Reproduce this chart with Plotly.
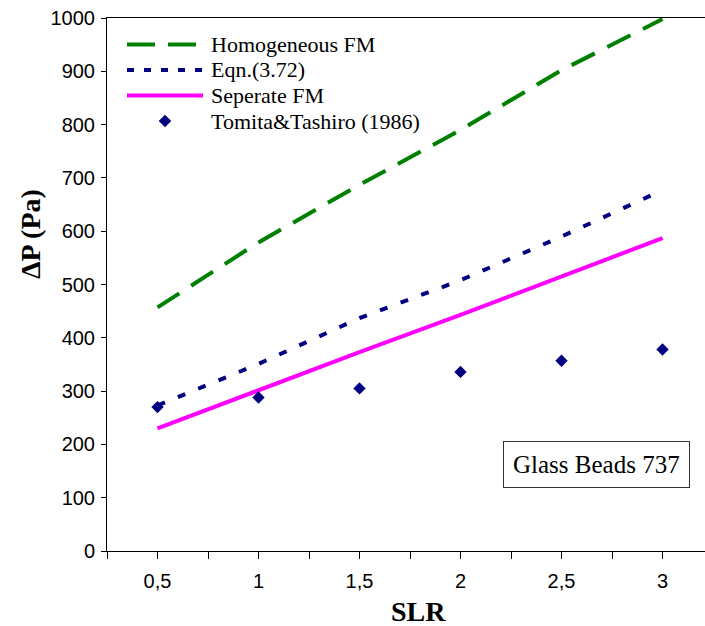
import plotly.graph_objects as go

# ---- data ----
slr = [0.5, 1.0, 1.5, 2.0, 2.5, 3.0]
tick_labels = ["0,5", "1", "1,5", "2", "2,5", "3"]
homogeneous_fm = [457, 579, 687, 790, 902, 998]
eqn_372 = [273, 351, 437, 508, 590, 677]
separate_fm = [230, 302, 373, 443, 515, 587]
tomita_tashiro = [270, 288, 305, 336, 357, 378]
series_names = ["Homogeneous FM", "Eqn.(3.72)", "Seperate FM", "Tomita&Tashiro (1986)"]

# ---- layout helpers (pixel -> paper) ----
W, H = 705, 626
L, R, T, B = 107, 0, 18, 75
pw, ph = W - L - R, H - T - B
def px(x): return (x - L) / pw
def py(y): return (H - B - y) / ph

GREEN, NAVY, MAGENTA = "#008000", "#000080", "#FF00FF"
SERIF, SANS = "Liberation Serif", "Liberation Sans"

fig = go.Figure()
fig.add_trace(go.Scatter(x=slr, y=homogeneous_fm, mode="lines", name=series_names[0],
                         line=dict(color=GREEN, width=4, dash="26px,14px"), showlegend=False))
fig.add_trace(go.Scatter(x=slr, y=eqn_372, mode="lines", name=series_names[1],
                         line=dict(color=NAVY, width=4, dash="8px,14px"), showlegend=False))
fig.add_trace(go.Scatter(x=slr, y=separate_fm, mode="lines", name=series_names[2],
                         line=dict(color=MAGENTA, width=4), showlegend=False))
fig.add_trace(go.Scatter(x=slr, y=tomita_tashiro, mode="markers", name=series_names[3],
                         marker=dict(symbol="diamond", size=9.5, color=NAVY, line=dict(width=0)),
                         showlegend=False))

# ---- manual legend ----
rows = [44.5, 70, 95.5, 121]
lx0, lx1 = 127, 203
shapes = [
    dict(type="line", xref="paper", yref="paper", x0=px(lx0), x1=px(lx1), y0=py(rows[0]), y1=py(rows[0]),
         line=dict(color=GREEN, width=4, dash="28px,13px")),
    dict(type="line", xref="paper", yref="paper", x0=px(lx0), x1=px(lx1), y0=py(rows[1]), y1=py(rows[1]),
         line=dict(color=NAVY, width=4, dash="7px,10px")),
    dict(type="line", xref="paper", yref="paper", x0=px(lx0), x1=px(lx1), y0=py(rows[2]), y1=py(rows[2]),
         line=dict(color=MAGENTA, width=4)),
]
cx, cy, r = 165, rows[3], 6.3
path = "M {} {} L {} {} L {} {} L {} {} Z".format(px(cx - r), py(cy), px(cx), py(cy - r),
                                                  px(cx + r), py(cy), px(cx), py(cy + r))
shapes.append(dict(type="path", xref="paper", yref="paper", path=path,
                   fillcolor=NAVY, line=dict(width=0)))

annotations = []
for name, ry in zip(series_names, rows):
    annotations.append(dict(text=name, x=px(209), y=py(ry), xref="paper", yref="paper",
                            xanchor="left", yanchor="middle", showarrow=False,
                            font=dict(family=SERIF, size=22, color="black")))

annotations.append(dict(text="Glass Beads 737", x=px(596), y=py(464), xref="paper", yref="paper",
                        xanchor="center", yanchor="middle", showarrow=False,
                        font=dict(family=SERIF, size=25, color="black"),
                        bordercolor="#333333", borderwidth=1, borderpad=9, bgcolor="white"))
annotations.append(dict(text="<b>ΔP (Pa)</b>", x=px(30), y=py(234), xref="paper", yref="paper",
                        xanchor="center", yanchor="middle", showarrow=False, textangle=-90,
                        font=dict(family=SERIF, size=28, color="black")))
annotations.append(dict(text="<b>SLR</b>", x=px(418), y=py(611), xref="paper", yref="paper",
                        xanchor="center", yanchor="middle", showarrow=False,
                        font=dict(family=SERIF, size=28, color="black")))

fig.update_layout(
    width=W, height=H, margin=dict(l=L, r=R, t=T, b=B, pad=0),
    paper_bgcolor="white", plot_bgcolor="white",
    shapes=shapes, annotations=annotations, showlegend=False,
    xaxis=dict(range=[0.25, 0.25 + pw / 202.0], tickmode="array", tickvals=slr, ticktext=tick_labels,
               ticks="outside", ticklen=7, tickcolor="black", tickwidth=1,
               minor=dict(ticks="outside", ticklen=7, tickcolor="black", tickwidth=1,
                          tick0=0.25, dtick=0.25),
               showgrid=False, zeroline=False, showline=True, linecolor="black", linewidth=1,
               mirror=True, ticklabelstandoff=5,
               tickfont=dict(family=SANS, size=20, color="black")),
    yaxis=dict(range=[0, 1000], tickmode="linear", tick0=0, dtick=100,
               ticks="outside", ticklen=5, tickcolor="black", tickwidth=1,
               showgrid=False, zeroline=False, showline=True, linecolor="black", linewidth=1,
               ticklabelstandoff=2,
               tickfont=dict(family=SANS, size=20, color="black")),
)

fig.write_html("out.html")
